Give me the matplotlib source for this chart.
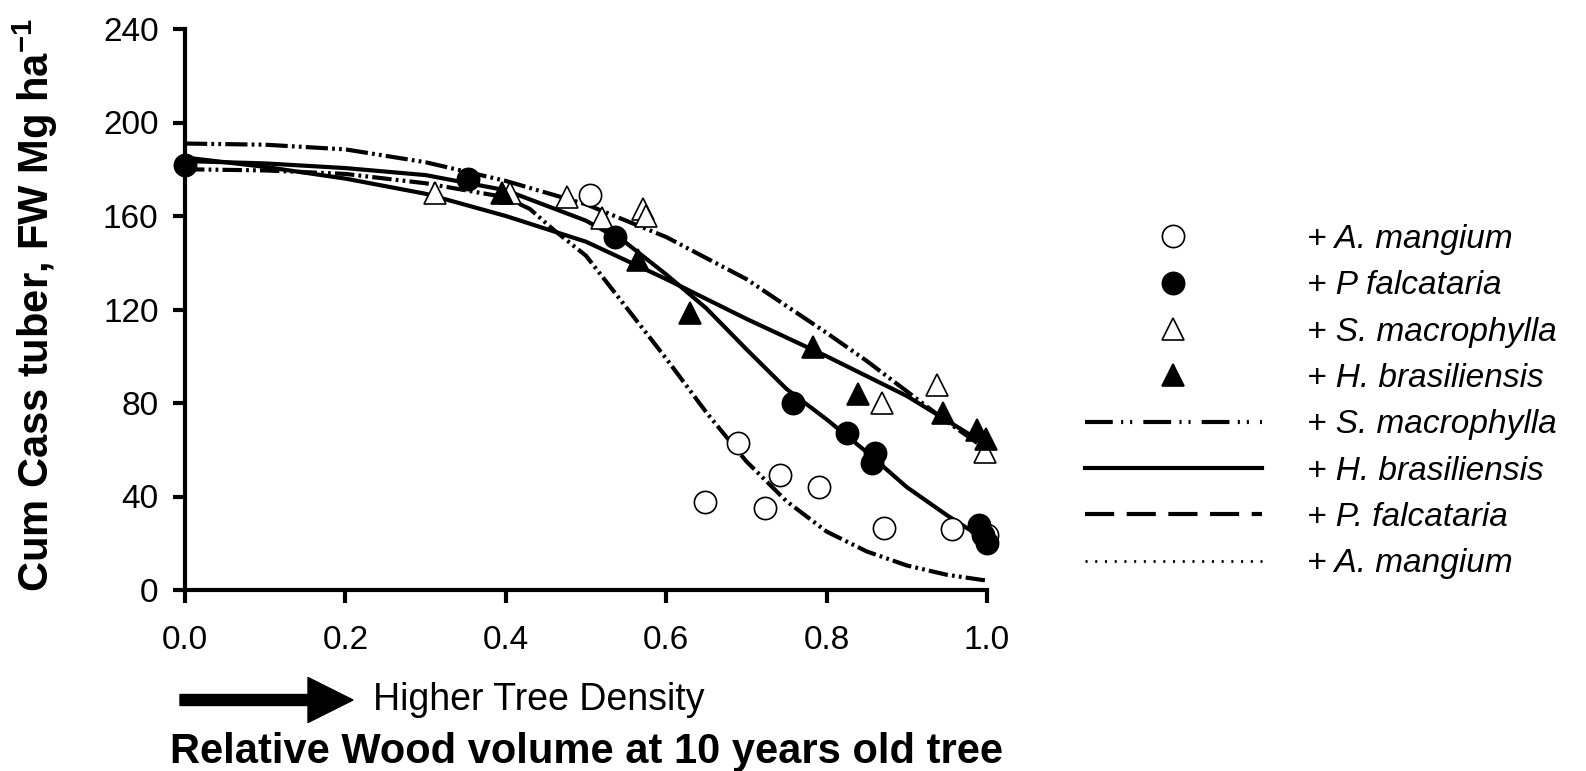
import matplotlib
matplotlib.use('Agg')
import matplotlib.pyplot as plt
from matplotlib.lines import Line2D
from matplotlib.patches import FancyArrow

plt.rcParams['font.family'] = ['Liberation Sans', 'DejaVu Sans']
plt.rcParams['lines.scale_dashes'] = False
plt.rcParams['mathtext.fontset'] = 'custom'
plt.rcParams['mathtext.rm'] = 'Liberation Sans:bold'
plt.rcParams['mathtext.bf'] = 'Liberation Sans:bold'

# Messpunkte (relative Holzvolumen, Knollenertrag)
am_x = [0.505, 0.648, 0.69, 0.723, 0.742, 0.79, 0.871, 0.956, 1.0]
am_y = [169, 37.6, 63, 35, 49, 44, 26.5, 26, 23.5]

pf_x = [0.0, 0.353, 0.536, 0.758, 0.825, 0.860, 0.857, 0.990, 0.995, 1.0]
pf_y = [182, 176, 151, 80, 67, 58.6, 54.3, 27.8, 23.5, 20]

sm_x = [0.312, 0.405, 0.476, 0.52, 0.571, 0.575, 0.869, 0.938, 0.998]
sm_y = [170, 170, 168, 159, 163, 160, 80, 87.7, 59]

hb_x = [0.395, 0.565, 0.63, 0.783, 0.839, 0.945, 0.988, 0.999]
hb_y = [170, 141, 118.5, 104, 84, 75.7, 68.5, 64.5]

# Regressionskurven
sm_cx = [0, 0.1, 0.2, 0.3, 0.4, 0.5, 0.6, 0.7, 0.8, 0.85, 0.9, 0.95, 1.0]
sm_cy = [191, 190.5, 188.5, 183, 175, 165, 151, 133, 110, 98, 85, 72, 60]

hb_cx = [0, 0.1, 0.2, 0.3, 0.4, 0.5, 0.6, 0.7, 0.8, 0.9, 0.95, 1.0]
hb_cy = [185, 181, 176, 169.5, 160, 149, 133, 116, 100, 83, 72.5, 62]

pf_cx = [0, 0.1, 0.2, 0.3, 0.4, 0.5, 0.55, 0.6, 0.65, 0.7, 0.75, 0.8, 0.85, 0.9, 0.95, 1.0]
pf_cy = [183.5, 182.5, 180.5, 177.5, 171, 158, 148.5, 135, 120.5, 103, 86, 73, 59, 44, 32, 21]

am_cx = [0, 0.1, 0.2, 0.3, 0.4, 0.43, 0.46, 0.5, 0.55, 0.6, 0.65, 0.7, 0.75, 0.8, 0.85, 0.9, 0.95, 1.0]
am_cy = [180, 179.5, 178, 174, 168, 163, 154, 143, 121, 99, 76, 55, 38, 25, 16.5, 10.5, 6.5, 4]

yticks = [0, 40, 80, 120, 160, 200, 240]
xticks = [0.0, 0.2, 0.4, 0.6, 0.8, 1.0]

W, H = 1586, 771
fig = plt.figure(figsize=(W / 100, H / 100), dpi=100)
ax = fig.add_axes([185 / W, 1 - 590 / H, (987 - 185) / W, (590 - 29) / H])

lw = 3.0
ax.plot(sm_cx, sm_cy, 'k-', lw=lw, dashes=(16, 3, 2, 3, 2, 3), clip_on=False, zorder=2)
ax.plot(hb_cx, hb_cy, 'k-', lw=lw, clip_on=False, zorder=2)
ax.plot(pf_cx, pf_cy, 'k-', lw=lw, clip_on=False, zorder=2)
ax.plot(am_cx, am_cy, 'k-', lw=lw, dashes=(14, 3, 2, 3, 2, 3), clip_on=False, zorder=2)

ms = 16
ax.plot(am_x, am_y, 'o', ms=ms, mfc='white', mec='black', mew=1.2, clip_on=False, zorder=3)
ax.plot(sm_x, sm_y, '^', ms=ms, mfc='white', mec='black', mew=1.2, clip_on=False, zorder=3)
ax.plot(hb_x, hb_y, '^', ms=ms, mfc='black', mec='black', mew=1.2, clip_on=False, zorder=4)
ax.plot(pf_x, pf_y, 'o', ms=ms, mfc='black', mec='black', mew=1.2, clip_on=False, zorder=4)

ax.set_xlim(0, 1)
ax.set_ylim(0, 240)
ax.set_xticks(xticks)
ax.set_xticklabels(['%.1f' % t for t in xticks])
ax.set_yticks(yticks)
for s in ['top', 'right']:
    ax.spines[s].set_visible(False)
for s in ['left', 'bottom']:
    ax.spines[s].set_linewidth(3)
ax.tick_params(direction='out', length=9, width=3, labelsize=24)
ax.tick_params(axis='y', pad=10)
ax.tick_params(axis='x', pad=16)

# Legende mit Stellvertretern
handles = [
    Line2D([], [], ls='none', marker='o', ms=ms, mfc='white', mec='black', mew=1.2),
    Line2D([], [], ls='none', marker='o', ms=ms, mfc='black', mec='black', mew=1.2),
    Line2D([], [], ls='none', marker='^', ms=ms, mfc='white', mec='black', mew=1.2),
    Line2D([], [], ls='none', marker='^', ms=ms, mfc='black', mec='black', mew=1.2),
    Line2D([], [], color='black', lw=3, dashes=(20, 6, 1.5, 5, 1.5, 8)),
    Line2D([], [], color='black', lw=3),
    Line2D([], [], color='black', lw=3, dashes=(21, 9)),
    Line2D([], [], color='black', lw=2, dashes=(1.5, 5.5)),
]
labels = ['+ A. mangium', '+ P falcataria', '+ S. macrophylla', '+ H. brasiliensis',
          '+ S. macrophylla', '+ H. brasiliensis', '+ P. falcataria', '+ A. mangium']
fig.legend(handles, labels, loc='upper left', bbox_to_anchor=(1085 / W, 1 - 224 / H),
           frameon=False, borderpad=0, borderaxespad=0, handlelength=5.3,
           handletextpad=1.35, labelspacing=0.46,
           prop={'size': 24, 'style': 'italic'})

fig.text(35 / W, 1 - 305 / H, 'Cum Cass tuber, FW Mg ha$^{-1}$', rotation=90,
         ha='center', va='center', fontsize=30, fontweight='bold')
fig.text(586 / W, 1 - 752 / H, 'Relative Wood volume at 10 years old tree',
         ha='center', va='center', fontsize=30, fontweight='bold')
fig.text(373 / W, 1 - 700 / H, 'Higher Tree Density', ha='left', va='center', fontsize=27)

arrow = FancyArrow(1.80, (H - 700) / 100, 1.73 - 0.45, 0, width=0.11, head_width=0.45,
                   head_length=0.45, length_includes_head=False, color='black',
                   transform=fig.dpi_scale_trans)
fig.add_artist(arrow)

fig.savefig('out.png', dpi=100)
